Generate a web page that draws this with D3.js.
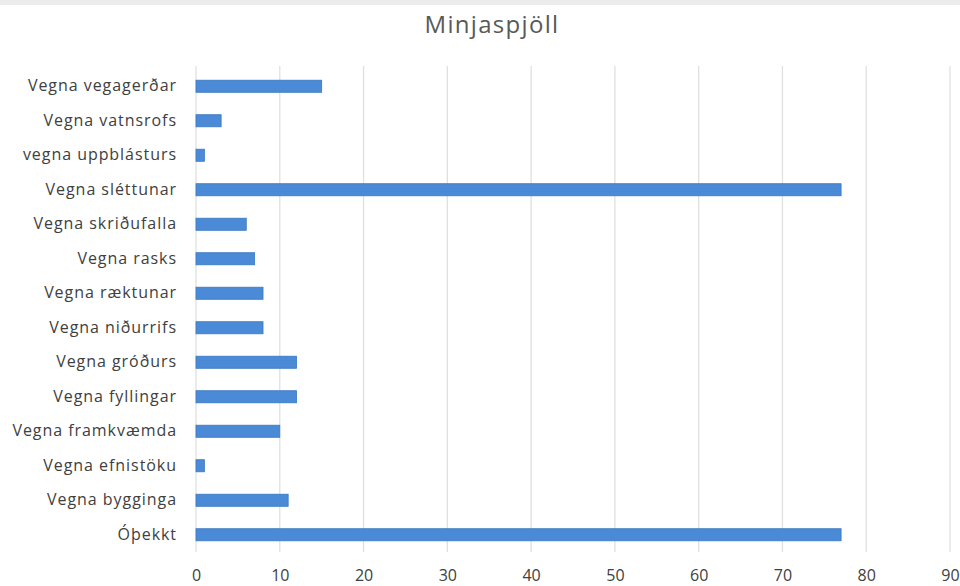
<!DOCTYPE html>
<html>
<head>
<meta charset="utf-8">
<script src="https://cdn.jsdelivr.net/npm/d3@7"></script>
<style>
  html, body { margin: 0; padding: 0; background: #fff; }
  svg { display: block; }
</style>
</head>
<body>
<svg id="chart" width="960" height="586"></svg>
<script>
// Categories, top to bottom
const categories = [
  "Vegna vegagerðar",
  "Vegna vatnsrofs",
  "vegna uppblásturs",
  "Vegna sléttunar",
  "Vegna skriðufalla",
  "Vegna rasks",
  "Vegna ræktunar",
  "Vegna niðurrifs",
  "Vegna gróðurs",
  "Vegna fyllingar",
  "Vegna framkvæmda",
  "Vegna efnistöku",
  "Vegna bygginga",
  "Óþekkt"
];
const counts = [15, 3, 1, 77, 6, 7, 8, 8, 12, 12, 10, 1, 11, 77];
const xTicks = [0, 10, 20, 30, 40, 50, 60, 70, 80, 90];
const title = "Minjaspjöll";

const svg = d3.select("#chart");
const W = 960, H = 586;
const font = "'Open Sans', 'Noto Sans', sans-serif";

// faint strip along the top edge
svg.append("rect").attr("x", 0).attr("y", 0).attr("width", W).attr("height", 5).attr("fill", "#ececec");

const x = d3.scaleLinear().domain([0, 90]).range([196, 950]);
const y = d3.scaleBand().domain(categories).range([69, 552]).paddingInner(0.65).paddingOuter(0.325);

// vertical gridlines
svg.append("g")
  .selectAll("line")
  .data(xTicks)
  .join("line")
  .attr("x1", d => x(d)).attr("x2", d => x(d))
  .attr("y1", 66).attr("y2", 552)
  .attr("stroke", "#e0e0e0")
  .attr("stroke-width", 1.3);

// bars
svg.append("g")
  .selectAll("rect")
  .data(categories)
  .join("rect")
  .attr("x", x(0))
  .attr("y", d => y(d))
  .attr("width", (d, i) => x(counts[i]) - x(0))
  .attr("height", y.bandwidth())
  .attr("fill", "#4a8ad6")
  .attr("stroke", "#3a78c2")
  .attr("stroke-width", 0.8);

// category axis
const yAxis = d3.axisLeft(y).tickSize(0).tickPadding(19);
const gy = svg.append("g").attr("transform", `translate(${x(0)},0)`).call(yAxis);
gy.select(".domain").remove();
gy.selectAll("text")
  .attr("font-family", font)
  .attr("font-size", 16)
  .attr("letter-spacing", 0.95)
  .attr("fill", "#404040");

// value axis
const xAxis = d3.axisBottom(x).tickValues(xTicks).tickSize(0).tickPadding(12);
const gx = svg.append("g").attr("transform", "translate(0,558)").call(xAxis);
gx.select(".domain").remove();
gx.selectAll("text")
  .attr("font-family", font)
  .attr("font-size", 16)
  .attr("fill", "#404040");

// title
svg.append("text")
  .attr("x", 492).attr("y", 33)
  .attr("text-anchor", "middle")
  .attr("font-family", font)
  .attr("font-size", 24)
  .attr("letter-spacing", 1.3)
  .attr("fill", "#595959")
  .text(title);
</script>
</body>
</html>
